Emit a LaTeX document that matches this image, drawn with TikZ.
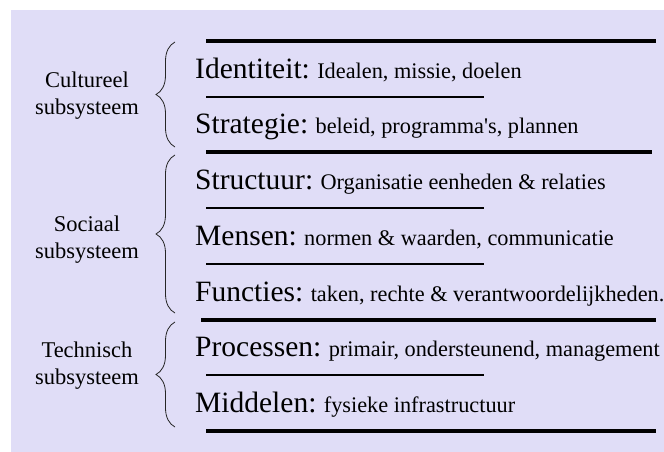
\documentclass[tikz,border=0pt]{standalone}
\usepackage{fontspec}
\setmainfont{Liberation Serif}[Ligatures=TeXOff]
\usetikzlibrary{decorations.pathreplacing}
\definecolor{lav}{RGB}{224,221,247}
\begin{document}
\begin{tikzpicture}[x=1pt,y=-1pt,
  thickrule/.style={line width=4pt},
  thinrule/.style={line width=2pt},
  rowtext/.style={anchor=base west,inner sep=0pt,font=\fontsize{22.3}{26}\selectfont},
  lbl/.style={align=center,inner sep=0pt,font=\fontsize{22.5}{27}\selectfont},
  bracestyle/.style={decorate,decoration={brace,amplitude=19pt},line width=0.8pt,black!85}]
\newcommand{\bw}[1]{{\fontsize{29.5}{31}\selectfont #1}}
\useasboundingbox (0,0) rectangle (664,452);
\fill[lav] (11,10) rectangle (664,452);
% rules
\draw[thickrule] (206,41) -- (656,41);
\draw[thinrule] (206,97) -- (484,97);
\draw[thickrule] (206,152) -- (652,152);
\draw[thinrule] (206,208) -- (484,208);
\draw[thinrule] (206,264) -- (484,264);
\draw[thickrule] (201,320) -- (656,320);
\draw[thinrule] (206,375) -- (484,375);
\draw[thickrule] (206,431) -- (656,431);
% rows
\node[rowtext] (identiteit) at (195,78) {\bw{Identiteit:} Idealen, missie, doelen};
\node[rowtext] (strategie) at (195,133.5) {\bw{Strategie:} beleid, programma's, plannen};
\node[rowtext] (structuur) at (195,189) {\bw{Structuur:} Organisatie eenheden \& relaties};
\node[rowtext] (mensen) at (195,245) {\bw{Mensen:} normen \& waarden, communicatie};
\node[rowtext] (functies) at (195,301) {\bw{Functies:} taken, rechte \& verantwoordelijkheden.};
\node[rowtext] (processen) at (195,356.5) {\bw{Processen:} primair, ondersteunend, management};
\node[rowtext] (middelen) at (195,412) {\bw{Middelen:} fysieke infrastructuur};
% braces
\draw[bracestyle] (175,147) -- (175,42);
\draw[bracestyle] (175,313) -- (175,155);
\draw[bracestyle] (175,427) -- (175,322);
% labels
\node[lbl] (cultureel) at (87,96) {Cultureel\\subsysteem};
\node[lbl] (sociaal) at (87,240) {Sociaal\\subsysteem};
\node[lbl] (technisch) at (87,366) {Technisch\\subsysteem};
\end{tikzpicture}
\end{document}
